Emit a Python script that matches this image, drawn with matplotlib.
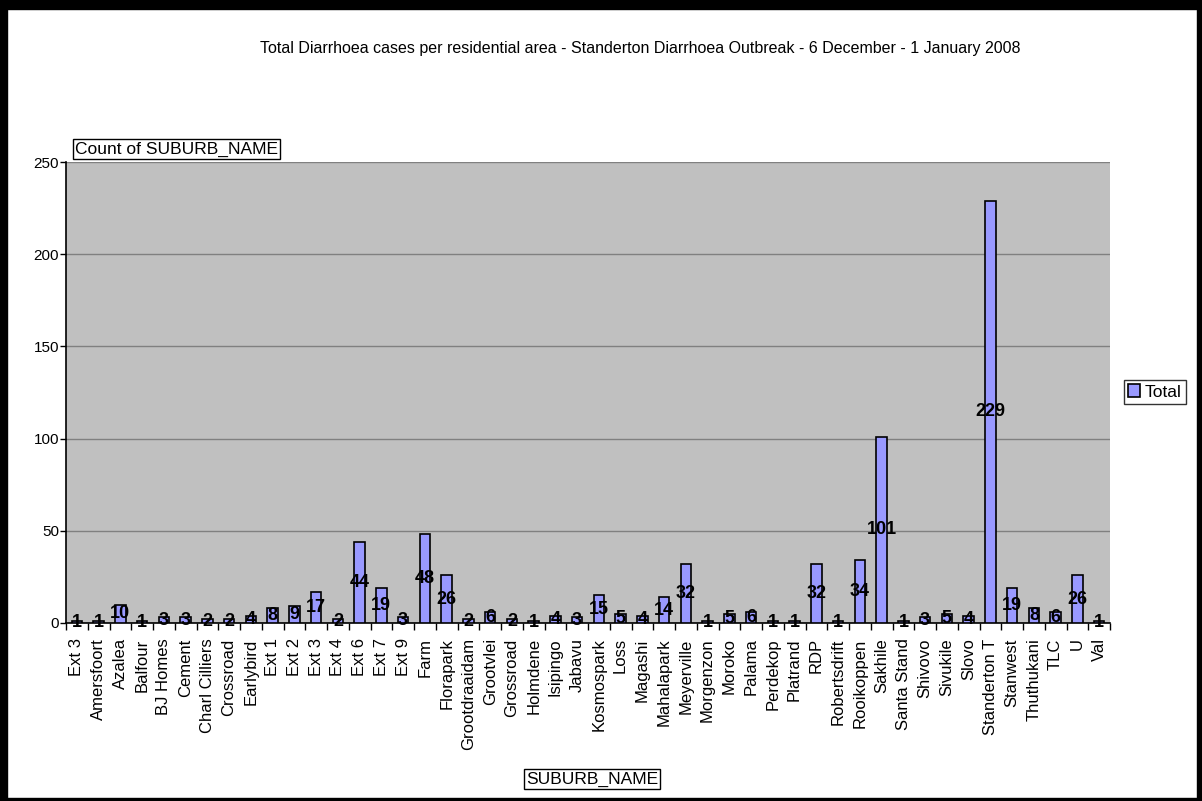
import numpy as np
import matplotlib.pyplot as plt
from matplotlib.patches import Rectangle

plt.rcParams['font.family'] = ['Liberation Sans', 'DejaVu Sans']

suburbs = ['Ext 3', 'Amersfoort', 'Azalea', 'Balfour', 'BJ Homes', 'Cement',
           'Charl Cilliers', 'Crossroad', 'Earlybird', 'Ext 1', 'Ext 2', 'Ext 3',
           'Ext 4', 'Ext 6', 'Ext 7', 'Ext 9', 'Farm', 'Florapark', 'Grootdraaidam',
           'Grootvlei', 'Grossroad', 'Holmdene', 'Isipingo', 'Jabavu', 'Kosmospark',
           'Loss', 'Magashi', 'Mahalapark', 'Meyerville', 'Morgenzon', 'Moroko',
           'Palama', 'Perdekop', 'Platrand', 'RDP', 'Robertsdrift', 'Rooikoppen',
           'Sakhile', 'Santa Stand', 'Shivovo', 'Sivukile', 'Slovo', 'Standerton T',
           'Stanwest', 'Thuthukani', 'TLC', 'U', 'Val']
cases = [1, 1, 10, 1, 3, 3,
         2, 2, 4, 8, 9, 17,
         2, 44, 19, 3, 48, 26, 2,
         6, 2, 1, 4, 3, 15,
         5, 4, 14, 32, 1, 5,
         6, 1, 1, 32, 1, 34,
         101, 1, 3, 5, 4, 229,
         19, 8, 6, 26, 1]
yticks = [0, 50, 100, 150, 200, 250]

W, H = 1202, 801
fig = plt.figure(figsize=(W / 100, H / 100), dpi=100)

# black frame round the chart, heavier on top
for x0, y0, w, h in [(0, H - 9, W, 9), (0, 0, 7, H), (W - 5, 0, 5, H), (0, 0, W, 3)]:
    fig.patches.append(Rectangle((x0 / W, y0 / H), w / W, h / H,
                                 transform=fig.transFigure, color='black', zorder=10))

ax = fig.add_axes([66 / W, 1 - 623 / H, (1110 - 66) / W, (623 - 162) / H])
ax.set_facecolor('#c0c0c0')

x = np.arange(len(suburbs))
ax.bar(x, cases, width=0.48, color='#9999ff', edgecolor='black', linewidth=1.2,
       zorder=3, label='Total')
for xi, v in zip(x, cases):
    ax.text(xi, v / 2, str(v), ha='center', va='center', fontsize=13,
            fontweight='bold', zorder=4)

ax.set_xlim(-0.5, len(suburbs) - 0.5)
ax.set_ylim(0, 250)
ax.set_yticks(yticks)
ax.yaxis.grid(True, color='#808080', linewidth=1, zorder=1)
ax.set_xticks(x)
ax.set_xticklabels(suburbs, rotation=90, fontsize=12)
ax.tick_params(axis='x', length=0, pad=11)
ax.set_xticks(np.arange(len(suburbs) + 1) - 0.5, minor=True)
ax.tick_params(axis='x', which='minor', length=5, width=1, direction='out')
ax.tick_params(axis='y', length=4, width=1, labelsize=11, pad=1)

for s in ['top', 'right']:
    ax.spines[s].set_visible(False)
ax.spines['left'].set_linewidth(1.2)
ax.spines['bottom'].set_linewidth(1.2)

fig.text(640 / W, 1 - 48 / H,
         'Total Diarrhoea cases per residential area - Standerton Diarrhoea Outbreak - 6 December - 1 January 2008',
         ha='center', va='center', fontsize=11.5)

box = dict(boxstyle='square,pad=0.12', facecolor='white', edgecolor='black', linewidth=1)
fig.text(75 / W, 1 - 149 / H, 'Count of SUBURB_NAME', ha='left', va='center',
         fontsize=12.5, bbox=box)
fig.text(592 / W, 1 - 779 / H, 'SUBURB_NAME', ha='center', va='center',
         fontsize=12.5, bbox=box)

leg = fig.legend(loc='center left', bbox_to_anchor=(1124 / W, 1 - 392 / H),
                 fontsize=12.5, frameon=True, fancybox=False, handlelength=0.7,
                 handleheight=0.7, handletextpad=0.25, borderpad=0.25,
                 borderaxespad=0)
leg.get_frame().set_edgecolor('black')
leg.get_frame().set_linewidth(1)

fig.savefig('out.png', dpi=100)
